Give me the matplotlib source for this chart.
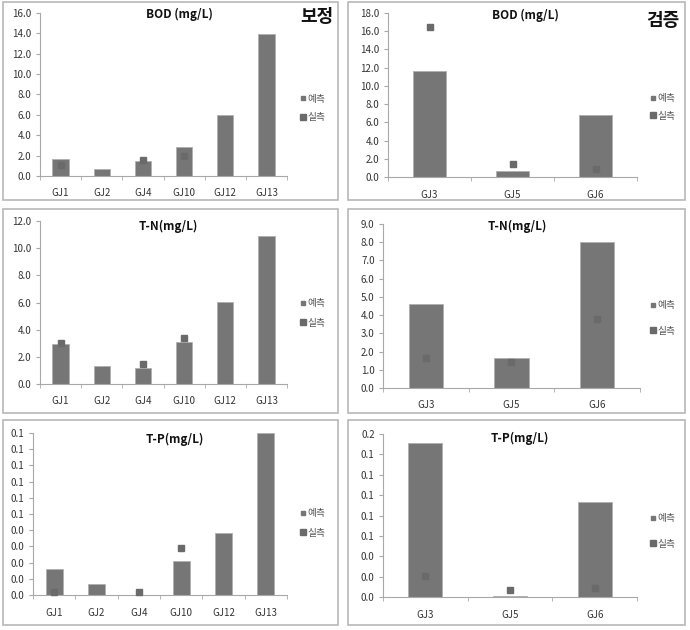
import math

import matplotlib
matplotlib.use("Agg")
import matplotlib.pyplot as plt
import numpy as np
from matplotlib.lines import Line2D
from matplotlib.patches import Rectangle

plt.rcParams["font.family"] = ["Noto Sans CJK KR", "DejaVu Sans"]

# stations
stations_cal = ["GJ1", "GJ2", "GJ4", "GJ10", "GJ12", "GJ13"]
stations_ver = ["GJ3", "GJ5", "GJ6"]

# BOD (mg/L)
bod_cal_pred = [1.62, 0.72, 1.47, 2.84, 5.95, 13.9]
bod_cal_obs = [1.05, np.nan, 1.55, 2.0, np.nan, np.nan]
bod_ver_pred = [11.67, 0.62, 6.84]
bod_ver_obs = [16.5, 1.39, 0.91]

# T-N (mg/L)
tn_cal_pred = [2.95, 1.30, 1.18, 3.12, 6.06, 10.92]
tn_cal_obs = [3.05, np.nan, 1.45, 3.41, np.nan, np.nan]
tn_ver_pred = [4.62, 1.65, 7.99]
tn_ver_obs = [1.67, 1.43, 3.76]

# T-P (mg/L)
tp_cal_pred = [0.0162, 0.0066, 0.0, 0.0211, 0.0385, 0.1]
tp_cal_obs = [0.002, np.nan, 0.002, 0.029, np.nan, np.nan]
tp_ver_pred = [0.1508, 0.0013, 0.0928]
tp_ver_obs = [0.021, 0.0072, 0.0092]

W, H = 690, 630
BAR_COLOR = "#767676"
OBS_COLOR = "#6a6a6a"
AXIS_COLOR = "#a8a8a8"
TEXT_COLOR = "#333333"


def fbox(left, right, top, bottom):
    """pixel box -> figure fraction [l, b, w, h]"""
    return [left / W, 1 - bottom / H, (right - left) / W, (bottom - top) / H]


def one_decimal(v):
    # excel style rounding (half up)
    return "{:.1f}".format(math.floor(v * 10 + 0.5 + 1e-9) / 10)


fig = plt.figure(figsize=(W / 100, H / 100), dpi=100)

# panel frames
for x0, x1 in [(3, 338), (348, 685)]:
    for y0, y1 in [(2, 200), (209, 413), (420, 625)]:
        fig.add_artist(Rectangle((x0 / W, 1 - y1 / H), (x1 - x0) / W, (y1 - y0) / H,
                                 transform=fig.transFigure, fill=False,
                                 ec="#b8b8b8", lw=1.2))

panels = [
    # axes box, title, title pos, cats, pred, obs, ymax, step, legend pos, legend spacing
    ((40, 287, 12.7, 176), "BOD (mg/L)", (179, 14), stations_cal, bod_cal_pred, bod_cal_obs,
     16, 2, (300, 108), 0.9),
    ((388, 637, 13, 177), "BOD (mg/L)", (525, 15), stations_ver, bod_ver_pred, bod_ver_obs,
     18, 2, (650, 107), 0.8),
    ((40, 287, 221, 384), "T-N(mg/L)", (168, 226), stations_cal, tn_cal_pred, tn_cal_obs,
     12, 2, (300, 313), 1.0),
    ((383, 640, 224, 388), "T-N(mg/L)", (517, 226), stations_ver, tn_ver_pred, tn_ver_obs,
     9, 1, (650, 318), 1.6),
    ((33, 287, 433, 595), "T-P(mg/L)", (175, 439), stations_cal, tp_cal_pred, tp_cal_obs,
     0.1, 0.01, (300, 523), 1.0),
    ((383, 637, 434, 597), "T-P(mg/L)", (520, 438), stations_ver, tp_ver_pred, tp_ver_obs,
     0.16, 0.02, (650, 531), 1.6),
]

for box, title, tpos, cats, pred, obs, ymax, step, lpos, lspace in panels:
    ax = fig.add_axes(fbox(*box))
    x = np.arange(len(cats))
    ax.bar(x, pred, width=0.4, color=BAR_COLOR, edgecolor="#b0b0b0", linewidth=0.6, zorder=2)
    ax.plot(x, obs, ls="none", marker="s", ms=4.5, color=OBS_COLOR, mec=OBS_COLOR,
            zorder=3, clip_on=False)

    ax.set_xlim(-0.5, len(cats) - 0.5)
    ax.set_ylim(0, ymax)
    yticks = np.arange(0, ymax + step / 2, step)
    ax.set_yticks(yticks)
    ax.set_yticklabels([one_decimal(v) for v in yticks])
    ax.set_xticks(x)
    ax.set_xticklabels(cats)
    ax.set_xticks(np.arange(-0.5, len(cats), 1), minor=True)
    ax.tick_params(axis="x", which="major", length=0, pad=9, labelsize=7, colors=TEXT_COLOR)
    ax.tick_params(axis="x", which="minor", length=3, color=AXIS_COLOR, direction="out")
    ax.tick_params(axis="y", length=3, color=AXIS_COLOR, pad=3, labelsize=7,
                   colors=TEXT_COLOR)
    for side in ["top", "right"]:
        ax.spines[side].set_visible(False)
    for side in ["left", "bottom"]:
        ax.spines[side].set_color(AXIS_COLOR)
        ax.spines[side].set_linewidth(0.8)
    ax.patch.set_alpha(0)

    fig.text(tpos[0] / W, 1 - tpos[1] / H, title, ha="center", va="center",
             fontsize=8.5, fontweight="bold", color="#111111")

    handles = [
        Line2D([], [], ls="none", marker="s", ms=3.5, color=BAR_COLOR),
        Line2D([], [], ls="none", marker="s", ms=5, color=OBS_COLOR),
    ]
    ax.legend(handles, ["예측", "실측"], loc="center left",
              bbox_to_anchor=(lpos[0] / W, 1 - lpos[1] / H), bbox_transform=fig.transFigure,
              frameon=False, fontsize=7, labelcolor="#555555", handlelength=0.6,
              handletextpad=0.2, labelspacing=lspace, borderpad=0, borderaxespad=0)

fig.text(317 / W, 1 - 17 / H, "보정", ha="center", va="center", fontsize=13,
         fontweight="bold", color="#111111")
fig.text(663 / W, 1 - 20 / H, "검증", ha="center", va="center", fontsize=13,
         fontweight="bold", color="#111111")

fig.savefig("out.png", dpi=100)
